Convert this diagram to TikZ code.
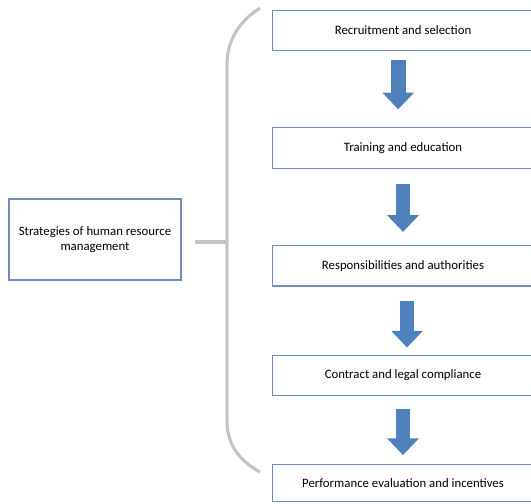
\documentclass[tikz,border=0pt]{standalone}
\usepackage{fontspec}
\setmainfont{Carlito}
\usepackage{tikz}
\usetikzlibrary{arrows.meta,positioning,calc}
\definecolor{boxline}{HTML}{6F8FBA}
\definecolor{arrowblue}{HTML}{4F81BD}
\definecolor{bracegray}{HTML}{C4C4C4}
\tikzset{
  stagebox/.style={draw=boxline,line width=0.8pt,fill=white,align=center,
    minimum width=196pt,minimum height=30.4pt,inner sep=0pt,
    font=\fontsize{9.6}{11.5}\selectfont},
  strategybox/.style={draw=boxline,line width=0.8pt,fill=white,align=center,
    minimum width=129pt,minimum height=60.75pt,inner sep=0pt,
    font=\fontsize{9.6}{11.6}\selectfont},
  blockarrow/.style={draw=arrowblue,line width=11pt,
    -{Triangle[length=12.5pt,width=23pt]}},
  bracepath/.style={draw=bracegray,line width=2.3pt}
}

\begin{document}
\begin{tikzpicture}[x=0.75pt,y=-0.75pt]
  \useasboundingbox (0,0) rectangle (531,503);
  % the five stages
  \node[stagebox] (recruit) at (403,30.5) {Recruitment and selection};
  \node[stagebox,below=57pt of recruit] (train) {Training and education};
  \node[stagebox,below=57pt of train] (resp) {Responsibilities and authorities};
  \node[stagebox,below=51pt of resp] (contract) {Contract and legal compliance};
  \node[stagebox,minimum height=27.5pt,below=51pt of contract] (perform)
    {Performance evaluation and incentives};
  % strategy box on the left
  \node[strategybox] (strategy) at (95,239.5)
    {Strategies of human resource\\management};
  % brace
  \coordinate (bracetop) at (260,8);
  \coordinate (bracebot) at (260,472);
  \coordinate (bracemid) at (227,242);
  \coordinate (stub) at (195,242);
  \draw[bracepath] (bracetop) .. controls (238,22) and (227,42) .. (227,64)
    -- (227,421) .. controls (227,443) and (238,460) .. (bracebot);
  \draw[bracepath] (stub) -- (bracemid);
  % arrows between stages
  \draw[blockarrow,shorten <=6.75pt,shorten >=13.5pt]
    ([xshift=-3.6pt]recruit.south) -- ([xshift=-3.6pt]train.north);
  \draw[blockarrow,shorten <=11.25pt,shorten >=9.75pt]
    ([xshift=0pt]train.south) -- ([xshift=0pt]resp.north);
  \draw[blockarrow,shorten <=10.5pt,shorten >=5.25pt]
    ([xshift=3pt]resp.south) -- ([xshift=3pt]contract.north);
  \draw[blockarrow,shorten <=9.75pt,shorten >=6.75pt]
    ([xshift=0pt]contract.south) -- ([xshift=0pt]perform.north);
\end{tikzpicture}
\end{document}
